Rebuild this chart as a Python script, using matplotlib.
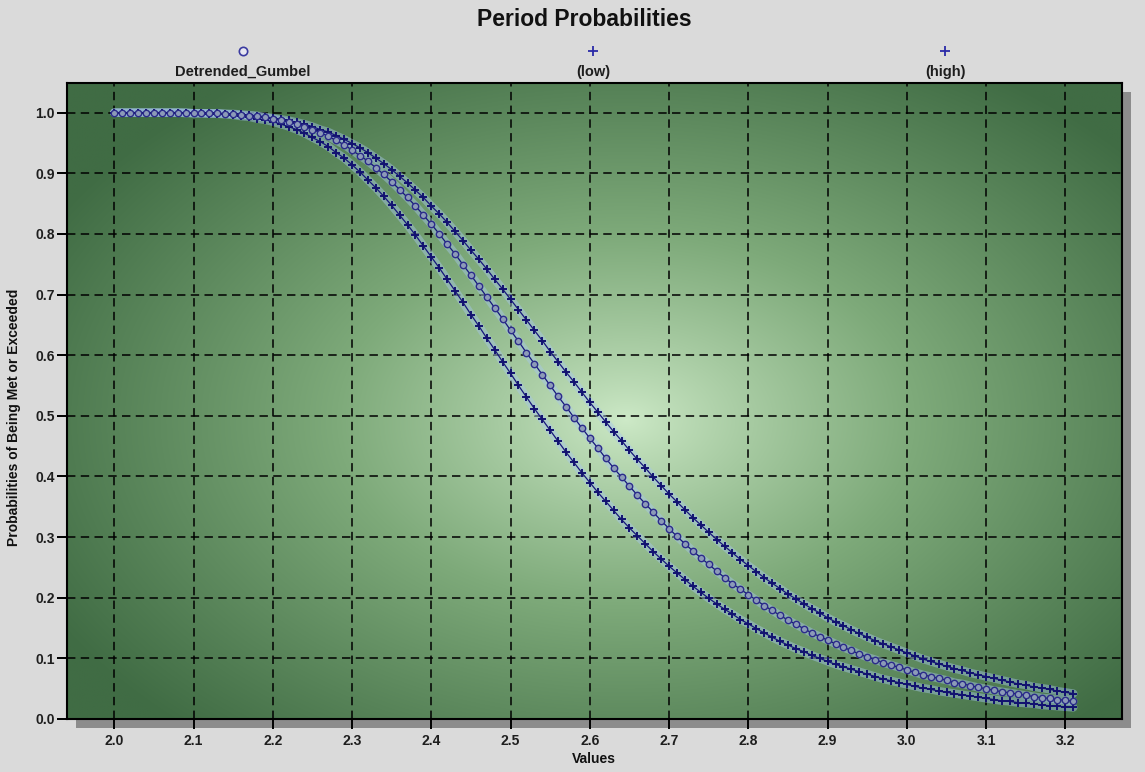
import matplotlib
matplotlib.use("Agg")
import matplotlib.pyplot as plt
import numpy as np
from matplotlib import font_manager
from matplotlib.lines import Line2D
from matplotlib.patches import Rectangle

# ---- data -------------------------------------------------------------
values = np.round(np.arange(2.00, 3.215, 0.01), 2)

detrended_gumbel = [
    1.000, 1.000, 1.000, 1.000, 1.000, 1.000, 1.000, 1.000, 1.000, 1.000,
    0.999, 0.999, 0.999, 0.999, 0.998, 0.997, 0.996, 0.995, 0.994, 0.992,
    0.990, 0.987, 0.984, 0.981, 0.977, 0.972, 0.967, 0.961, 0.954, 0.947,
    0.938, 0.929, 0.920, 0.909, 0.898, 0.886, 0.873, 0.860, 0.846, 0.831,
    0.816, 0.800, 0.783, 0.767, 0.749, 0.732, 0.714, 0.696, 0.678, 0.660,
    0.641, 0.623, 0.604, 0.586, 0.568, 0.550, 0.532, 0.515, 0.497, 0.480,
    0.463, 0.447, 0.430, 0.414, 0.399, 0.384, 0.369, 0.355, 0.341, 0.327,
    0.314, 0.301, 0.289, 0.277, 0.266, 0.255, 0.244, 0.233, 0.223, 0.214,
    0.205, 0.196, 0.187, 0.179, 0.171, 0.163, 0.156, 0.149, 0.142, 0.136,
    0.130, 0.124, 0.118, 0.113, 0.107, 0.102, 0.098, 0.093, 0.089, 0.085,
    0.081, 0.077, 0.073, 0.070, 0.067, 0.064, 0.060, 0.058, 0.055, 0.052,
    0.050, 0.047, 0.045, 0.043, 0.041, 0.039, 0.037, 0.035, 0.034, 0.032,
    0.031, 0.029,
]

low = [
    1.000, 1.000, 1.000, 1.000, 1.000, 1.000, 1.000, 1.000, 1.000, 0.999,
    0.999, 0.999, 0.998, 0.998, 0.997, 0.996, 0.994, 0.993, 0.990, 0.988,
    0.985, 0.981, 0.977, 0.972, 0.966, 0.959, 0.952, 0.944, 0.934, 0.925,
    0.914, 0.902, 0.889, 0.876, 0.862, 0.847, 0.831, 0.815, 0.798, 0.780,
    0.762, 0.744, 0.725, 0.706, 0.687, 0.667, 0.648, 0.628, 0.609, 0.589,
    0.570, 0.550, 0.531, 0.512, 0.494, 0.476, 0.458, 0.440, 0.423, 0.406,
    0.390, 0.374, 0.359, 0.344, 0.329, 0.315, 0.302, 0.289, 0.276, 0.264,
    0.252, 0.241, 0.230, 0.219, 0.209, 0.199, 0.190, 0.181, 0.173, 0.164,
    0.157, 0.149, 0.142, 0.135, 0.128, 0.122, 0.116, 0.111, 0.105, 0.100,
    0.095, 0.090, 0.086, 0.082, 0.078, 0.074, 0.070, 0.066, 0.063, 0.060,
    0.057, 0.054, 0.051, 0.049, 0.046, 0.044, 0.042, 0.040, 0.038, 0.036,
    0.034, 0.032, 0.030, 0.029, 0.027, 0.026, 0.025, 0.023, 0.022, 0.021,
    0.020, 0.019,
]

high = [
    1.000, 1.000, 1.000, 1.000, 1.000, 1.000, 1.000, 1.000, 1.000, 1.000,
    0.999, 0.999, 0.999, 0.999, 0.998, 0.998, 0.997, 0.996, 0.995, 0.993,
    0.991, 0.989, 0.987, 0.984, 0.981, 0.977, 0.972, 0.968, 0.962, 0.956,
    0.949, 0.942, 0.934, 0.925, 0.916, 0.906, 0.895, 0.884, 0.872, 0.860,
    0.846, 0.833, 0.819, 0.804, 0.789, 0.773, 0.758, 0.742, 0.725, 0.709,
    0.692, 0.675, 0.658, 0.641, 0.624, 0.606, 0.589, 0.572, 0.556, 0.539,
    0.522, 0.506, 0.490, 0.474, 0.459, 0.443, 0.428, 0.414, 0.399, 0.385,
    0.371, 0.358, 0.345, 0.332, 0.320, 0.308, 0.296, 0.285, 0.274, 0.263,
    0.253, 0.243, 0.233, 0.224, 0.215, 0.206, 0.198, 0.190, 0.182, 0.175,
    0.167, 0.160, 0.154, 0.147, 0.141, 0.135, 0.129, 0.124, 0.119, 0.114,
    0.109, 0.104, 0.099, 0.095, 0.091, 0.087, 0.083, 0.080, 0.076, 0.073,
    0.070, 0.067, 0.064, 0.061, 0.058, 0.056, 0.053, 0.051, 0.049, 0.046,
    0.044, 0.042,
]

x_ticks = [2.0, 2.1, 2.2, 2.3, 2.4, 2.5, 2.6, 2.7, 2.8, 2.9, 3.0, 3.1, 3.2]
y_ticks = [0.0, 0.1, 0.2, 0.3, 0.4, 0.5, 0.6, 0.7, 0.8, 0.9, 1.0]
legend_labels = ["Detrended_Gumbel", "(low)", "(high)"]

# ---- fonts ------------------------------------------------------------
available = {f.name for f in font_manager.fontManager.ttflist}
base_font = "Liberation Sans" if "Liberation Sans" in available else "DejaVu Sans"
if "Liberation Sans Narrow" in available:
    title_font, title_size = "Liberation Sans Narrow", 20
else:
    title_font, title_size = base_font, 16.5
plt.rcParams["font.family"] = [base_font, "DejaVu Sans"]

W, H = 1145, 772
BG = "#dadada"
NAVY = "#16167c"
HALO = "#a6c6ec"

fig = plt.figure(figsize=(W / 100, H / 100), dpi=100, facecolor=BG)


def fx(px):
    return px / W


def fy(py):
    return 1 - py / H


left, right, top, bottom = 67, 1122, 83, 719
ax = fig.add_axes([fx(left), fy(bottom), fx(right) - fx(left), fy(top) - fy(bottom)])

# drop shadow behind the plotting area
fig.add_artist(Rectangle((fx(left + 9), fy(bottom + 9)), fx(right) - fx(left),
                         fy(top) - fy(bottom), transform=fig.transFigure,
                         facecolor="#8c8c8c", edgecolor="none", zorder=-5))

xlim = (1.9404, 3.2714)
ylim = (0.0, 1.0488)
ax.set_xlim(*xlim)
ax.set_ylim(*ylim)

# radial green background
nx, ny = 600, 400
u = np.linspace(0, 1, nx)[None, :]
v = np.linspace(0, 1, ny)[:, None]
d = np.sqrt(((u - 0.53) / 0.62) ** 2 + ((v - 0.47) / 0.66) ** 2)
t = np.clip(d, 0, 1) ** 0.85
light = np.array([206, 234, 200]) / 255
mid = np.array([126, 170, 122]) / 255
dark = np.array([64, 108, 68]) / 255
t3 = t[..., None]
img = np.where(t3 < 0.5,
               light + (mid - light) * (t3 / 0.5),
               mid + (dark - mid) * ((t3 - 0.5) / 0.5))
ax.imshow(img, extent=(*xlim, *ylim), origin="lower", aspect="auto",
          interpolation="bilinear", zorder=0)

# grid
ax.set_xticks(x_ticks)
ax.set_yticks(y_ticks)
ax.set_xticklabels([f"{t:.1f}" for t in x_ticks])
ax.set_yticklabels([f"{t:.1f}" for t in y_ticks])
ax.grid(True, color="black", linestyle=(0, (5.5, 3.5)), linewidth=1.1, zorder=1)
ax.set_axisbelow("line")

# curves: soft halo, then line, then markers
for series in (low, high, detrended_gumbel):
    ax.plot(values, series, color=HALO, lw=6, alpha=0.45,
            solid_capstyle="round", zorder=2)

for series in (low, high):
    ax.plot(values, series, color=NAVY, lw=0.9, zorder=3)
    ax.plot(values, series, linestyle="none", marker="+", ms=6, mew=1.4,
            color="#121270", zorder=4)

ax.plot(values, detrended_gumbel, color=NAVY, lw=0.9, zorder=3)
ax.plot(values, detrended_gumbel, linestyle="none", marker="o", ms=4.6,
        mfc="#8c9bb8", mec="#2c2c8a", mew=1.0, zorder=4)

# axes styling
for sp in ax.spines.values():
    sp.set_color("black")
    sp.set_linewidth(1.5)
    sp.set_zorder(5)
ax.tick_params(axis="both", direction="out", length=7, width=1.4,
               color="black", labelsize=10, labelcolor="#1e1e1e")
ax.tick_params(axis="x", pad=4)
ax.tick_params(axis="y", pad=2)
for lab in ax.get_xticklabels() + ax.get_yticklabels():
    lab.set_fontweight("bold")

# title
fig.text(fx(584), fy(20), "Period Probabilities", ha="center", va="center",
         fontsize=title_size, fontweight="bold", family=[title_font, "DejaVu Sans"],
         color="#111111")

# legend across the top: marker above label
legend_x = [243, 593, 945]
legend_markers = [
    dict(marker="o", ms=6, mfc="#e6e6f0", mec="#3a3aa0", mew=1.2),
    dict(marker="+", ms=7.5, mew=1.3, color="#2a2aa8"),
    dict(marker="+", ms=7.5, mew=1.3, color="#2a2aa8"),
]
for xp, label, style in zip(legend_x, legend_labels, legend_markers):
    fig.add_artist(Line2D([fx(xp)], [fy(51)], transform=fig.transFigure,
                          linestyle="none", **style))
    fig.text(fx(xp), fy(72), label, ha="center", va="center", fontsize=10.5,
             fontweight="bold", color="#1e1e1e")

# axis labels
fig.text(fx(14), fy(417), "Probabilities of Being Met or Exceeded", rotation=90,
         ha="center", va="center", fontsize=10, fontweight="bold", color="#111111")
fig.text(fx(594), fy(759), "Values", ha="center", va="center", fontsize=10,
         fontweight="bold", color="#111111")

fig.savefig("out.png", dpi=100, facecolor=BG)
